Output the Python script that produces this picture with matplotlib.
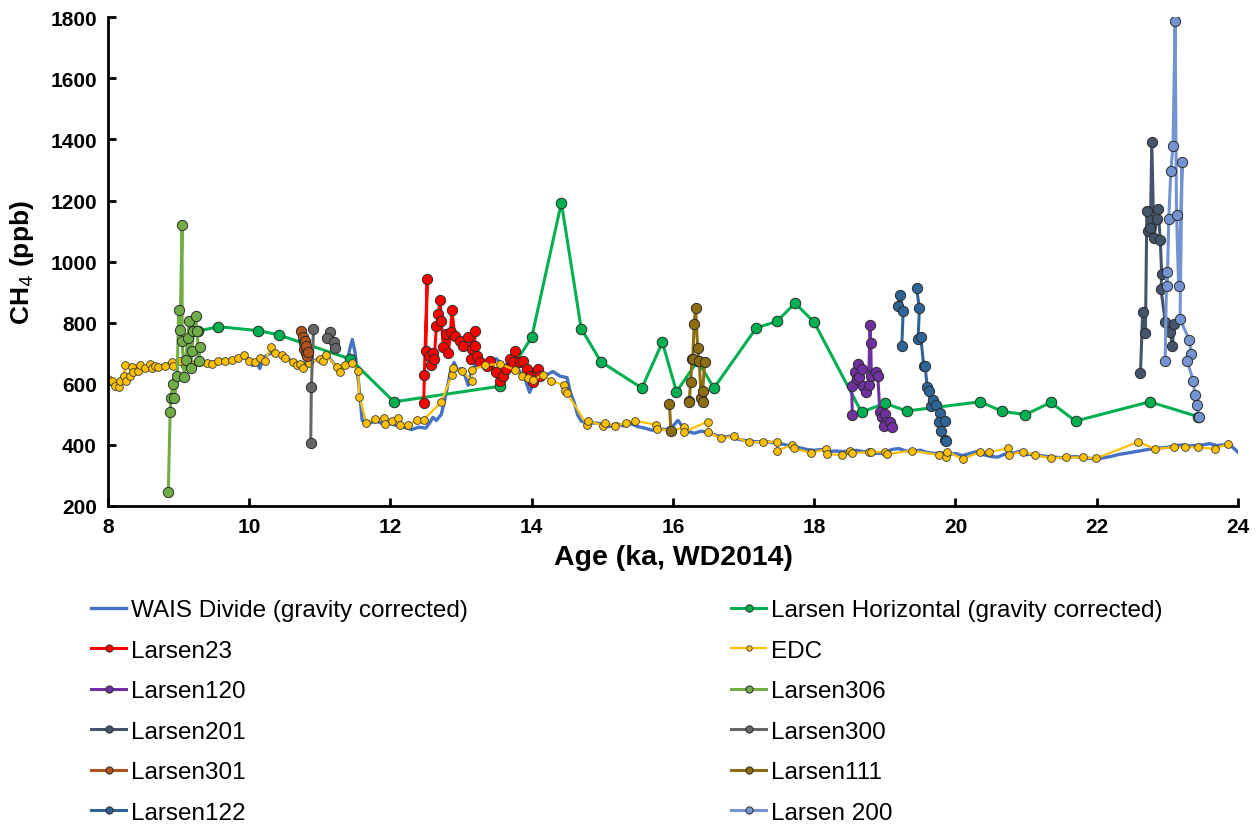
import matplotlib.pyplot as plt
import numpy as np

plt.rcParams['font.family'] = ['Liberation Sans', 'DejaVu Sans']

# WAIS Divide CH4 (gravity corrected)
wais_age = [8.0, 8.1, 8.2, 8.3, 8.4, 8.5, 8.6, 8.7, 8.8, 8.9, 9.0, 9.1, 9.2, 9.3, 9.4, 9.5,
            9.6, 9.7, 9.8, 9.9, 10.0, 10.05, 10.1, 10.15, 10.2, 10.3, 10.4, 10.5, 10.6, 10.7,
            10.8, 10.9, 11.0, 11.1, 11.2, 11.3, 11.38, 11.43, 11.46, 11.5, 11.55, 11.6, 11.65,
            11.7, 11.8, 11.9, 12.0, 12.1, 12.2, 12.3, 12.4, 12.5, 12.55, 12.6, 12.65, 12.72,
            12.78, 12.85, 12.9, 12.95, 13.0, 13.05, 13.1, 13.15, 13.2, 13.3, 13.4, 13.5, 13.6,
            13.7, 13.8, 13.9, 13.97, 14.05, 14.1, 14.2, 14.3, 14.4, 14.5, 14.55, 14.6, 14.65,
            14.7, 14.8, 14.9, 15.0, 15.1, 15.2, 15.3, 15.4, 15.5, 15.6, 15.7, 15.8, 15.9, 16.0,
            16.07, 16.12, 16.2, 16.3, 16.4, 16.5, 16.6, 16.7, 16.8, 16.9, 17.0, 17.1, 17.2,
            17.3, 17.4, 17.5, 17.6, 17.7, 17.8, 17.9, 18.0, 18.1, 18.2, 18.3, 18.4, 18.5, 18.6,
            18.7, 18.8, 18.9, 19.0, 19.1, 19.2, 19.3, 19.4, 19.5, 19.6, 19.7, 19.8, 19.9, 20.0,
            20.1, 20.2, 20.3, 20.4, 20.5, 20.6, 20.7, 20.8, 20.9, 21.0, 21.1, 21.2, 21.3, 21.4,
            21.5, 21.6, 21.7, 21.8, 21.9, 22.0, 22.1, 22.2, 22.3, 22.4, 22.5, 22.6, 22.7, 22.8,
            22.9, 23.0, 23.1, 23.2, 23.3, 23.4, 23.5, 23.6, 23.7, 23.8, 23.9, 24.0]
wais_ch4 = [612, 600, 622, 630, 645, 652, 660, 655, 662, 668, 672, 662, 668, 670, 668, 672,
            676, 678, 682, 690, 680, 660, 672, 650, 685, 700, 698, 688, 675, 665,
            668, 672, 685, 695, 665, 650, 665, 720, 745, 700, 600, 480, 470,
            472, 478, 468, 470, 462, 458, 450, 458, 455, 470, 490, 480, 500,
            560, 640, 670, 645, 650, 630, 595, 645, 660, 670, 672, 682, 660,
            665, 650, 620, 572, 615, 640, 628, 640, 625, 620, 570, 540, 498,
            478, 470, 472, 468, 460, 470, 462, 470, 460, 455, 448, 452, 450, 462,
            480, 465, 445, 438, 445, 440, 432, 425, 428, 420, 415, 412, 410,
            412, 408, 405, 400, 395, 390, 385, 382, 385, 378, 380, 378, 380, 382,
            378, 376, 372, 374, 385, 388, 380, 378, 383, 375, 372, 374, 368, 372,
            365, 372, 378, 368, 362, 360, 370, 372, 378, 368, 370, 365, 362, 360,
            358, 360, 362, 358, 356, 354, 358, 362, 368, 372, 376, 380, 384, 388,
            390, 392, 396, 400, 396, 398, 400, 404, 398, 400, 398, 376]

# Larsen horizontal transect (gravity corrected)
horiz_age = [9.27, 9.56, 10.13, 10.42, 11.43, 12.05, 13.55, 14.0, 14.42, 14.70, 14.98, 15.56,
             15.85, 16.05, 16.35, 16.58, 17.18, 17.47, 17.73, 18.0, 18.67, 19.0, 19.31, 20.35,
             20.66, 20.99, 21.35, 21.70, 22.75, 23.44]
horiz_ch4 = [772, 787, 774, 760, 681, 541, 592, 752, 1193, 781, 672, 586,
             736, 574, 675, 586, 783, 804, 864, 801, 507, 536, 511, 541,
             510, 499, 539, 478, 541, 492]

l23_age = [12.47, 12.48, 12.52, 12.50, 12.55, 12.57, 12.60, 12.62, 12.65, 12.68, 12.70, 12.72,
           12.75, 12.79, 12.82, 12.85, 12.87, 12.91, 12.98, 13.03, 13.10, 13.15, 13.20, 13.19,
           13.14, 13.22, 13.27, 13.36, 13.41, 13.50, 13.55, 13.60, 13.64, 13.69, 13.74, 13.76,
           13.83, 13.88, 13.93, 13.97, 14.02, 14.07, 14.09, 14.12]
l23_ch4 = [536, 629, 943, 708, 690, 660, 700, 680, 788, 828, 875, 806,
           720, 763, 700, 770, 842, 757, 741, 725, 752, 714, 774, 725,
           681, 692, 670, 659, 675, 637, 610, 627, 648, 681, 670, 706,
           670, 675, 648, 627, 605, 637, 648, 627]

# EDC CH4
edc_age = [8.00, 8.05, 8.10, 8.15, 8.17, 8.22, 8.24, 8.26, 8.31, 8.34, 8.36, 8.43, 8.45, 8.52,
           8.59, 8.62, 8.67, 8.71, 8.81, 8.90, 8.92, 9.02, 9.09, 9.18, 9.28, 9.40, 9.47, 9.56,
           9.66, 9.75, 9.84, 9.93, 9.99, 10.08, 10.15, 10.22, 10.31, 10.36, 10.46, 10.51, 10.62,
           10.67, 10.72, 10.76, 10.85, 11.00, 11.05, 11.09, 11.24, 11.29, 11.36, 11.45, 11.54,
           11.56, 11.66, 11.78, 11.91, 11.92, 12.02, 12.11, 12.13, 12.25, 12.37, 12.47, 12.72,
           12.87, 12.89, 13.01, 13.15, 13.16, 13.34, 13.55, 13.76, 13.86, 13.95, 14.02, 14.16,
           14.27, 14.45, 14.47, 14.50, 14.78, 14.80, 15.01, 15.04, 15.18, 15.34, 15.46, 15.76,
           15.77, 15.98, 16.15, 16.16, 16.49, 16.50, 16.68, 16.86, 17.07, 17.28, 17.47, 17.48,
           17.68, 17.71, 17.96, 18.17, 18.18, 18.39, 18.51, 18.53, 18.78, 18.81, 19.00, 19.03,
           19.38, 19.76, 19.87, 19.88, 20.10, 20.35, 20.47, 20.75, 20.76, 20.95, 21.13, 21.35,
           21.56, 21.81, 21.99, 22.59, 22.82, 23.09, 23.25, 23.44, 23.67, 23.86]
edc_ch4 = [616, 610, 594, 588, 610, 624, 661, 608, 626, 654, 637, 643, 661, 651,
           665, 651, 659, 654, 657, 670, 657, 675, 659, 665, 672, 668, 665, 675,
           675, 679, 683, 694, 675, 670, 683, 675, 719, 700, 694, 683, 670,
           661, 665, 651, 668, 681, 675, 694, 654, 637, 661, 667, 643,
           558, 471, 485, 488, 468, 479, 487, 465, 465, 481, 482, 541,
           629, 651, 643, 610, 646, 661, 665, 646, 627, 618, 613, 629,
           610, 596, 577, 570, 466, 479, 463, 472, 463, 472, 479, 466,
           452, 446, 457, 443, 476, 441, 421, 428, 408, 410, 410, 381,
           400, 389, 373, 387, 370, 367, 381, 373, 376, 376, 378, 370,
           381, 367, 359, 378, 354, 376, 376, 389, 367, 378, 367, 356,
           359, 359, 356, 410, 387, 392, 392, 392, 387, 403]

l120_age = [18.54, 18.53, 18.58, 18.62, 18.60, 18.64, 18.67, 18.69, 18.73, 18.77, 18.79, 18.80,
            18.81, 18.87, 18.90, 18.93, 18.96, 19.00, 19.02, 18.99, 19.07, 19.10]
l120_ch4 = [499, 594, 640, 665, 616, 621, 648, 594, 572, 596, 792, 733,
            626, 640, 626, 507, 490, 501, 474, 463, 474, 457]

l306_age = [8.854, 8.88, 8.89, 8.92, 8.94, 8.98, 9.00, 9.02, 9.05, 9.05, 9.08, 9.10, 9.13, 9.15,
            9.17, 9.19, 9.21, 9.24, 9.26, 9.29, 9.30]
l306_ch4 = [245, 507, 553, 600, 552, 624, 842, 777, 1120, 741, 623, 679, 750, 806,
            651, 706, 774, 821, 774, 676, 721]

l201_age = [22.62, 22.65, 22.69, 22.71, 22.73, 22.76, 22.78, 22.81, 22.85, 22.87, 22.90, 22.92,
            22.91, 22.97, 23.04, 23.07, 23.10]
l201_ch4 = [635, 834, 766, 1165, 1101, 1109, 1392, 1076, 1139, 1172, 1071, 958,
            910, 803, 768, 725, 796]

l300_age = [11.14, 11.10, 11.20, 11.21, np.nan, 10.91, 10.88, 10.87]
l300_ch4 = [771, 749, 736, 717, np.nan, 779, 590, 405]

l301_age = [10.74, 10.76, 10.77, 10.78, 10.79, 10.80, 10.81, 10.82, 10.83]
l301_ch4 = [774, 752, 735, 715, 740, 700, 725, 690, 705]

l111_age = [15.95, 15.97, np.nan, 16.22, 16.23, 16.25, 16.27, 16.28, 16.30, 16.32, 16.35,
            16.37, 16.40, 16.42, 16.42, 16.45]
l111_ch4 = [534, 447, np.nan, 543, 541, 607, 681, 680, 796, 847, 717,
            676, 555, 541, 577, 670]

l122_age = [19.19, 19.21, 19.26, 19.24, np.nan, 19.45, 19.49, 19.47, 19.51, 19.55, 19.57,
            19.60, 19.62, 19.66, 19.68, 19.72, 19.78, 19.77, 19.85, 19.80, 19.85, 19.87]
l122_ch4 = [855, 891, 839, 725, np.nan, 912, 847, 747, 752, 659, 659,
            588, 578, 528, 548, 530, 504, 476, 479, 446, 416, 414]

l200_age = [22.97, 22.99, 23.00, 23.02, 23.05, 23.08, 23.11, 23.13, 23.16, 23.21, 23.18,
            23.31, 23.34, 23.28, 23.37, 23.39, 23.42, 23.45]
l200_ch4 = [673, 967, 921, 1141, 1297, 1377, 1786, 1154, 919, 1326, 812,
            744, 696, 675, 608, 563, 532, 491]

fig = plt.figure(figsize=(12.6, 8.28), dpi=100)
ax = fig.add_axes([0.0857, 0.3877, 0.8968, 0.5903])

def larsen(x, y, color, label, edge='#2b2b2b', ms=7.4, lw=2.2):
    return ax.plot(x, y, '-o', color=color, lw=lw, ms=ms, mfc=color,
                   mec=edge, mew=0.7, label=label)[0]

h_wais = ax.plot(wais_age, wais_ch4, color='#4472C4', lw=2.4,
                 label='WAIS Divide (gravity corrected)')[0]
h_horiz = larsen(horiz_age, horiz_ch4, '#00B050', 'Larsen Horizontal (gravity corrected)', ms=7.6)
h23 = larsen(l23_age, l23_ch4, '#FF0000', 'Larsen23')
h_edc = ax.plot(edc_age, edc_ch4, '-o', color='#FFC000', lw=1.6, ms=5.6, mfc='#FFC000',
                mec='#3a3a3a', mew=0.6, label='EDC')[0]
h120 = larsen(l120_age, l120_ch4, '#7030A0', 'Larsen120')
h306 = larsen(l306_age, l306_ch4, '#70AD47', 'Larsen306')
h201 = larsen(l201_age, l201_ch4, '#44546A', 'Larsen201')
h300 = larsen(l300_age, l300_ch4, '#666666', 'Larsen300')
h301 = larsen(l301_age, l301_ch4, '#B0521C', 'Larsen301')
h111 = larsen(l111_age, l111_ch4, '#8C6D0F', 'Larsen111')
h122 = larsen(l122_age, l122_ch4, '#2E6496', 'Larsen122')
h200 = larsen(l200_age, l200_ch4, '#7393D1', 'Larsen 200')

ax.set_xlim(8, 24)
ax.set_ylim(200, 1800)
ax.set_xticks(np.arange(8, 25, 2))
ax.set_yticks(np.arange(200, 1801, 200))
for s in ['top', 'right']:
    ax.spines[s].set_visible(False)
for s in ['left', 'bottom']:
    ax.spines[s].set_linewidth(2)
ax.tick_params(direction='in', length=6, width=2, labelsize=15, pad=8)
for t in ax.get_xticklabels() + ax.get_yticklabels():
    t.set_fontweight('bold')

ax.set_xlabel('Age (ka, WD2014)', fontsize=20.5, fontweight='bold', labelpad=6)
ax.set_ylabel('CH$_4$ (ppb)', fontsize=19, fontweight='bold', labelpad=10)

# two legend columns, filled row by row
left = [h_wais, h23, h120, h201, h301, h122]
right = [h_horiz, h_edc, h306, h300, h111, h200]
for handles, xpos in [(left, 0.0625), (right, 0.5705)]:
    fig.legend(handles=handles, loc='upper left', bbox_to_anchor=(xpos, 0.2895),
               frameon=False, fontsize=17.5, handlelength=1.45, handletextpad=0.2,
               labelspacing=0.76, borderpad=0, markerscale=0.7)

fig.savefig('out.png', dpi=100)
